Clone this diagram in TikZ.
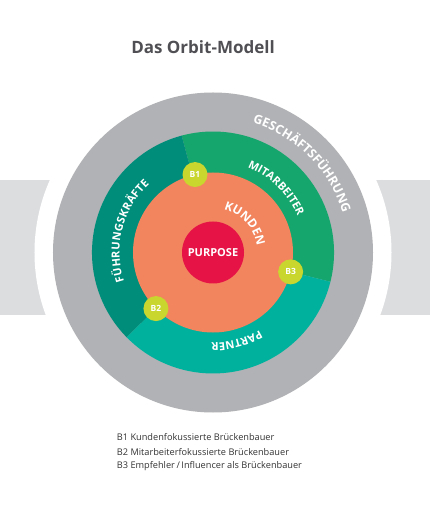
\documentclass[tikz,border=0pt]{standalone}
\usepackage{fontspec}
\setmainfont{Open Sans}
\setsansfont{Open Sans}
\usetikzlibrary{decorations.text}
\definecolor{ringgray}{HTML}{B1B2B5}
\definecolor{bandgray}{HTML}{DCDDDF}
\definecolor{fuehrung}{HTML}{008E7A}
\definecolor{mitarb}{HTML}{14A66C}
\definecolor{partnercol}{HTML}{00B29D}
\definecolor{kundencol}{HTML}{F2845E}
\definecolor{purposecol}{HTML}{E61446}
\definecolor{limecol}{HTML}{C8D62E}
\definecolor{titlegray}{HTML}{505054}
\definecolor{legendgray}{HTML}{333333}
\newcommand\arclabel[5]{%
  \path[decorate,decoration={text along path,text color=white,
    text align={fit to path},
    text={|\fontsize{#5}{#5}\selectfont\bfseries|#4{\,}}}]
    (#1:#3) arc[start angle=#1,end angle=#2,radius=#3];}
\begin{document}
\begin{tikzpicture}[x=1pt,y=1pt,
  disc/.style={circle,inner sep=0pt,draw=none},
  bcirc/.style={disc,fill=limecol,minimum size=25pt,text=white,
    font=\bfseries\fontsize{8.5}{8.5}\selectfont},
  legend/.style={anchor=base west,inner sep=0pt,text=legendgray,
    font=\fontsize{9.2}{9.2}\selectfont}]
\useasboundingbox (-213,-252.5) rectangle (217,252.5);
\fill[bandgray] (-213,72.5) rectangle (217,-62.5);
\node[disc,fill=white,minimum size=357pt] (gap) at (0,0) {};
\node[disc,fill=ringgray,minimum size=320pt] (gf) at (0,0) {};
\fill[mitarb] (0,0) -- (-14:121) arc[start angle=-14,end angle=105,radius=121] -- cycle;
\fill[fuehrung] (0,0) -- (105:121) arc[start angle=105,end angle=224.5,radius=121] -- cycle;
\fill[partnercol] (0,0) -- (224.5:121) arc[start angle=224.5,end angle=346,radius=121] -- cycle;
\node[disc,fill=kundencol,minimum size=160pt] (kunden) at (0,0) {};
\node[disc,fill=purposecol,minimum size=62pt,text=white,
  font=\bfseries\fontsize{11}{11}\selectfont] (purpose) at (0,0) {PURPOSE};
\node[bcirc] (b1) at (103:80) {B1};
\node[bcirc] (b2) at (224.5:80) {B2};
\node[bcirc] (b3) at (-14:80) {B3};
\arclabel{73}{16.5}{135.5}{GESCHÄFTSFÜHRUNG}{12.5}
\arclabel{68}{22.5}{92}{MITARBEITER}{11}
\arclabel{198}{131.5}{93.5}{FÜHRUNGSKRÄFTE}{11}
\arclabel{76}{14.5}{44.5}{KUNDEN}{12}
\arclabel{-59}{-90.5}{90.5}{PARTNER}{11}
\node[anchor=base,inner sep=0pt,text=titlegray,
  font=\bfseries\fontsize{17}{17}\selectfont] (title) at (-10,199.2) {Das Orbit-Modell};
\node[legend] (l1) at (-96.3,-188) {B1 Kundenfokussierte Brückenbauer};
\node[legend] (l2) at (-96.3,-202.5) {B2 Mitarbeiterfokussierte Brückenbauer};
\node[legend] (l3) at (-96.3,-216) {B3 Empfehler\,/\,Influencer als Brückenbauer};
\end{tikzpicture}
\end{document}
